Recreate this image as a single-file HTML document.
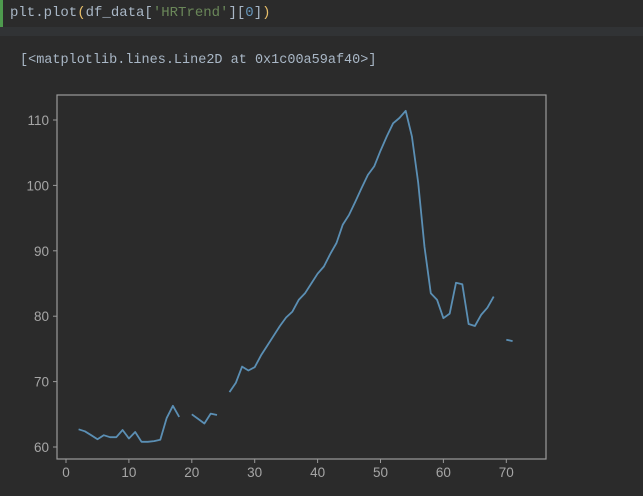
<!DOCTYPE html>
<html><head><meta charset="utf-8"><style>
html,body{margin:0;padding:0;background:#2b2b2b;width:643px;height:496px;overflow:hidden}
#cell{position:absolute;left:0;top:0;width:643px;height:27px;background:#2b2b2b;border-left:3px solid #4e9a4e;box-sizing:border-box}
#code{position:absolute;left:7px;top:5px;font:14px "Liberation Mono",monospace;color:#a9b7c6;white-space:pre}
#sep{position:absolute;left:0;top:27px;width:643px;height:9px;background:#313335}
#out{position:absolute;left:20px;top:53px;font:13.5px "Liberation Mono",monospace;color:#a9b7c6;white-space:pre}
svg{position:absolute;left:0;top:0}
</style></head><body>
<div id="cell"><div id="code">plt.plot<span style="color:#e8bf6a">(</span>df_data[<span style="color:#6a8759">'HRTrend'</span>][<span style="color:#6897bb">0</span>]<span style="color:#e8bf6a">)</span></div></div>
<div id="sep"></div>
<div id="out">[&lt;matplotlib.lines.Line2D at 0x1c00a59af40&gt;]</div>
<svg id="chart" width="643" height="496"></svg>
<script>
const xTicks=[0,10,20,30,40,50,60,70];
const yTicks=[60,70,80,90,100,110];
const hrValues=[null,null,62.7,62.4,61.8,61.2,61.8,61.5,61.5,62.6,61.3,62.3,60.8,60.8,60.9,61.1,64.4,66.3,64.6,null,65.0,64.3,63.6,65.1,64.9,null,68.4,69.8,72.3,71.7,72.2,74.0,75.5,77.0,78.5,79.8,80.7,82.5,83.5,85.0,86.5,87.6,89.5,91.2,94.0,95.5,97.5,99.6,101.6,102.9,105.3,107.5,109.5,110.3,111.4,107.5,100.4,90.6,83.5,82.5,79.7,80.4,85.1,84.9,78.8,78.5,80.2,81.3,83.0,null,76.4,76.2];
const NS='http://www.w3.org/2000/svg';
const svg=document.getElementById('chart');
const L=57,R=546,T=95,B=459;
const xs=v=>66+v*6.29;
const ys=v=>447-(v-60)*6.54;
function mk(t,a){const e=document.createElementNS(NS,t);for(const k in a)e.setAttribute(k,a[k]);svg.appendChild(e);return e;}
const frame=mk('rect',{x:L,y:T,width:R-L,height:B-T,fill:'#2b2b2b',stroke:'#9a9a9a','stroke-width':1.2});


xTicks.forEach(t=>{
  const l=mk('line',{x1:xs(t),x2:xs(t),y1:B,y2:B+4,stroke:'#9a9a9a','stroke-width':1});
  
  
  const tx=mk('text',{x:xs(t),y:B+18,'text-anchor':'middle',fill:'#a6a6a6','font-family':'Liberation Sans, sans-serif','font-size':13.5});
  tx.textContent=t;
  
  
});
yTicks.forEach(t=>{
  const l=mk('line',{x1:L-4,x2:L,y1:ys(t),y2:ys(t),stroke:'#9a9a9a','stroke-width':1});
  
  
  const tx=mk('text',{x:L-8,y:ys(t)+5,'text-anchor':'end',fill:'#a6a6a6','font-family':'Liberation Sans, sans-serif','font-size':13.5});
  tx.textContent=t;
  
  
});
let d='',pen=false;
hrValues.forEach((v,i)=>{
  if(v===null){pen=false;return;}
  d+=(pen?'L':'M')+xs(i).toFixed(1)+' '+ys(v).toFixed(1)+' ';pen=true;
});
const p=mk('path',{d:d,fill:'none',stroke:'#5b8fb4','stroke-width':1.8,'stroke-linejoin':'round'});


</script>
</body></html>
